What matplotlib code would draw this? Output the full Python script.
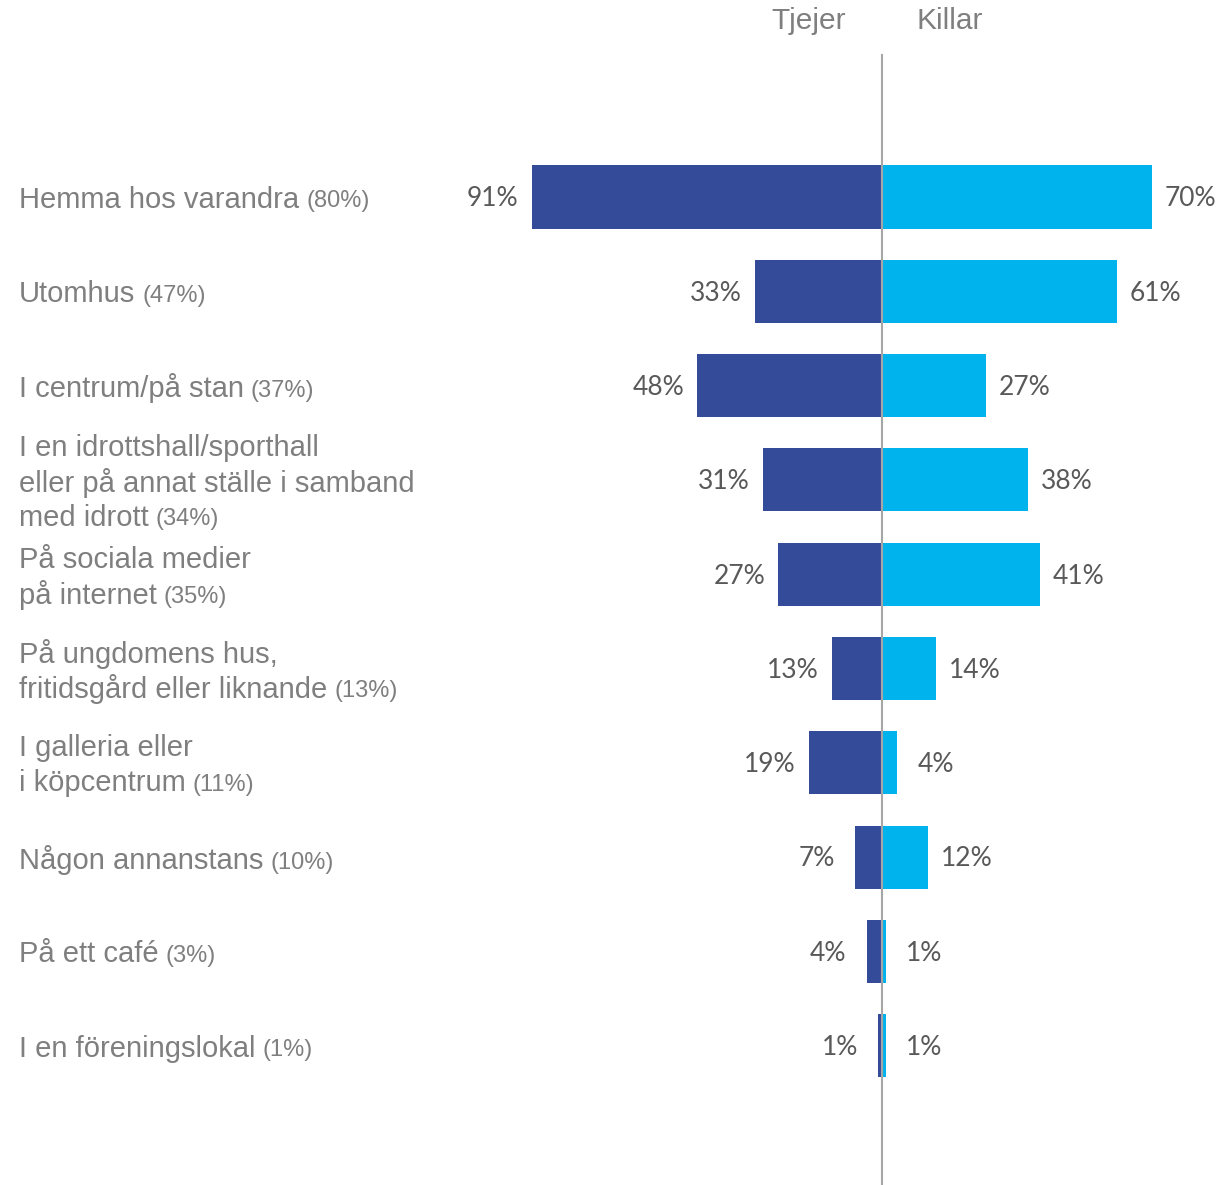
import matplotlib
matplotlib.use("Agg")
from matplotlib import pyplot as plt

# data
categories = [
    ["Hemma hos varandra"],
    ["Utomhus"],
    ["I centrum/på stan"],
    ["I en idrottshall/sporthall", "eller på annat ställe i samband", "med idrott"],
    ["På sociala medier", "på internet"],
    ["På ungdomens hus,", "fritidsgård eller liknande"],
    ["I galleria eller", "i köpcentrum"],
    ["Någon annanstans"],
    ["På ett café"],
    ["I en föreningslokal"],
]
totals = [80, 47, 37, 34, 35, 13, 11, 10, 3, 1]
tjejer = [91, 33, 48, 31, 27, 13, 19, 7, 4, 1]
killar = [70, 61, 27, 38, 41, 14, 4, 12, 1, 1]

dark = "#344B9A"
light = "#00B3EC"
grey = "#7F7F7F"
valgrey = "#595959"

W, H = 1229, 1185
fig = plt.figure(figsize=(W / 100, H / 100), dpi=100)
ax = fig.add_axes([0, 0, 1, 1])

px = 3.85      # pixels per percent
cx = 882       # centre line in pixels
row = 94.3     # pixels per row
y0 = 197       # first row centre in pixels

ax.set_xlim(-cx / px, (W - cx) / px)
ax.set_ylim((H - y0) / row, -y0 / row)
ax.axis("off")

ys = list(range(len(categories)))
ax.barh(ys, [-v for v in tjejer], height=0.67, color=dark)
ax.barh(ys, killar, height=0.67, color=light)

ax.plot([0, 0], [(55 - y0) / row, (H - y0) / row], color="#A6A6A6", lw=1.5)

for y, v in zip(ys, tjejer):
    pad = 13 if v >= 10 else 20
    ax.annotate(f"{v}%", (-v, y + 0.02), xytext=(-pad * 0.72, 0), textcoords="offset points",
                ha="right", va="center", fontsize=19, color=valgrey, family="Lato")
for y, v in zip(ys, killar):
    pad = 13 if v >= 10 else 20
    ax.annotate(f"{v}%", (v, y + 0.02), xytext=(pad * 0.72, 0), textcoords="offset points",
                ha="left", va="center", fontsize=19, color=valgrey, family="Lato")

lx = (19 - cx) / px
lsp = 35 / row
for y, lines, tot in zip(ys, categories, totals):
    n = len(lines)
    t = None
    for i, line in enumerate(lines):
        t = ax.text(lx, y + 0.03 + (i - (n - 1) / 2) * lsp, line, ha="left", va="center",
                    fontsize=21, color=grey, family="Liberation Sans")
    ax.annotate(f"({tot}%)", xy=(1, 0), xycoords=t, xytext=(5, 1), textcoords="offset points",
                ha="left", va="bottom", fontsize=17, color=grey, family="Liberation Sans")

ax.text((809 - cx) / px, (21 - y0) / row, "Tjejer", ha="center", va="center",
        fontsize=21.5, color=grey, family="Liberation Sans")
ax.text((950 - cx) / px, (21 - y0) / row, "Killar", ha="center", va="center",
        fontsize=21.5, color=grey, family="Liberation Sans")

fig.savefig("out.png", dpi=100)
